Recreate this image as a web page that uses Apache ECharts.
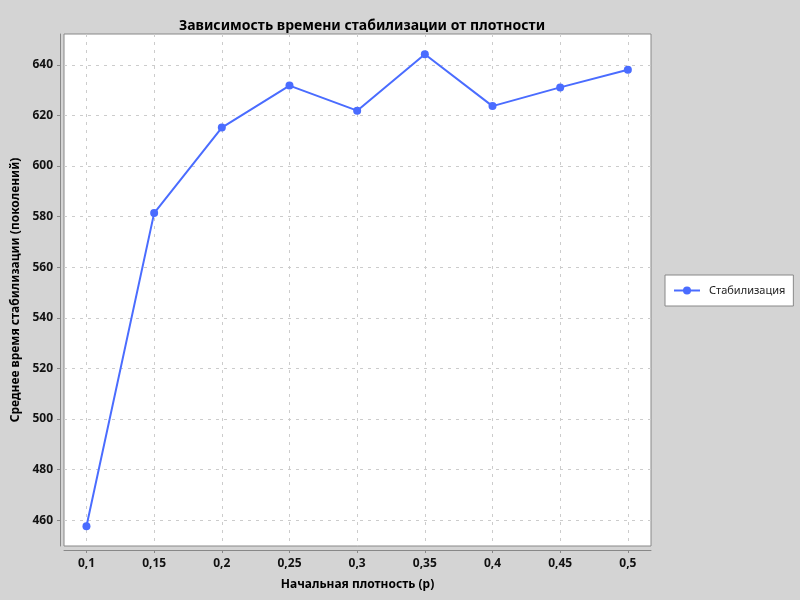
<!DOCTYPE html>
<html>
<head>
<meta charset="utf-8">
<script src="https://cdn.jsdelivr.net/npm/echarts@6/dist/echarts.min.js"></script>
<style>
html,body{margin:0;padding:0;background:#d4d4d4;}
#chart{width:800px;height:600px;}
</style>
</head>
<body>
<div id="chart"></div>
<script>
const densities = [0.1, 0.15, 0.2, 0.25, 0.3, 0.35, 0.4, 0.45, 0.5];
const stabilization = [457.6, 581.4, 615.2, 631.8, 621.9, 644.2, 623.7, 631.1, 638.1];
const xTicks = [0.1, 0.15, 0.2, 0.25, 0.3, 0.35, 0.4, 0.45, 0.5];
const yTicks = [460, 480, 500, 520, 540, 560, 580, 600, 620, 640];
const seriesName = 'Стабилизация';

const FONT = '"Noto Sans", "DejaVu Sans", sans-serif';
const chart = echarts.init(document.getElementById('chart'));
chart.setOption({
  backgroundColor: '#d4d4d4',
  animation: false,
  title: {
    text: 'Зависимость времени стабилизации от плотности',
    left: 357, top: 14, textAlign: 'center',
    textStyle: {fontFamily: FONT, fontSize: 14, fontWeight: 'bold', color: '#000'}
  },
  legend: {
    left: 665, top: 275, orient: 'vertical',
    backgroundColor: '#fff', borderColor: '#888', borderWidth: 1,
    padding: [10, 8], itemWidth: 26, itemHeight: 10,
    textStyle: {fontFamily: FONT, fontSize: 11, color: '#222', padding: [0, 0, 0, 4]},
    data: [{name: seriesName}]
  },
  grid: {
    left: 64, top: 34, right: 149, bottom: 54,
    show: true, backgroundColor: '#fff', borderColor: '#888', borderWidth: 1
  },
  xAxis: {
    type: 'value', min: 0.0834, max: 0.5171,
    offset: 4,
    name: 'Начальная плотность (p)', nameLocation: 'middle', nameGap: 29,
    nameTextStyle: {fontFamily: FONT, fontSize: 12, fontWeight: 'bold', color: '#000'},
    axisLine: {show: true, lineStyle: {color: '#888', width: 1}},
    axisTick: {show: true, length: 3, customValues: xTicks, lineStyle: {color: '#888'}},
    axisLabel: {customValues: xTicks, margin: 8, fontFamily: FONT, fontSize: 12, fontWeight: 'bold', color: '#111',
      formatter: v => String(Math.round(v * 100) / 100).replace('.', ',')},
    splitLine: {show: true, lineStyle: {color: '#cccccc', type: [3, 5], width: 1}}
  },
  yAxis: {
    type: 'value', min: 449.8, max: 652.2,
    offset: 4,
    name: 'Среднее время стабилизации (поколений)', nameLocation: 'middle', nameGap: 36,
    nameTextStyle: {fontFamily: FONT, fontSize: 12, fontWeight: 'bold', color: '#000'},
    axisLine: {show: true, lineStyle: {color: '#888', width: 1}},
    axisTick: {show: true, length: 3, customValues: yTicks, lineStyle: {color: '#888'}},
    axisLabel: {customValues: yTicks, margin: 7, fontFamily: FONT, fontSize: 12, fontWeight: 'bold', color: '#111'},
    splitLine: {show: true, lineStyle: {color: '#cccccc', type: [3, 5], width: 1}}
  },
  series: [{
    name: seriesName, type: 'line',
    data: densities.map((d, i) => [d, stabilization[i]]),
    symbol: 'circle', symbolSize: 8,
    lineStyle: {color: '#4a6cff', width: 2},
    itemStyle: {color: '#4a6cff'}
  }]
});
</script>
</body>
</html>
